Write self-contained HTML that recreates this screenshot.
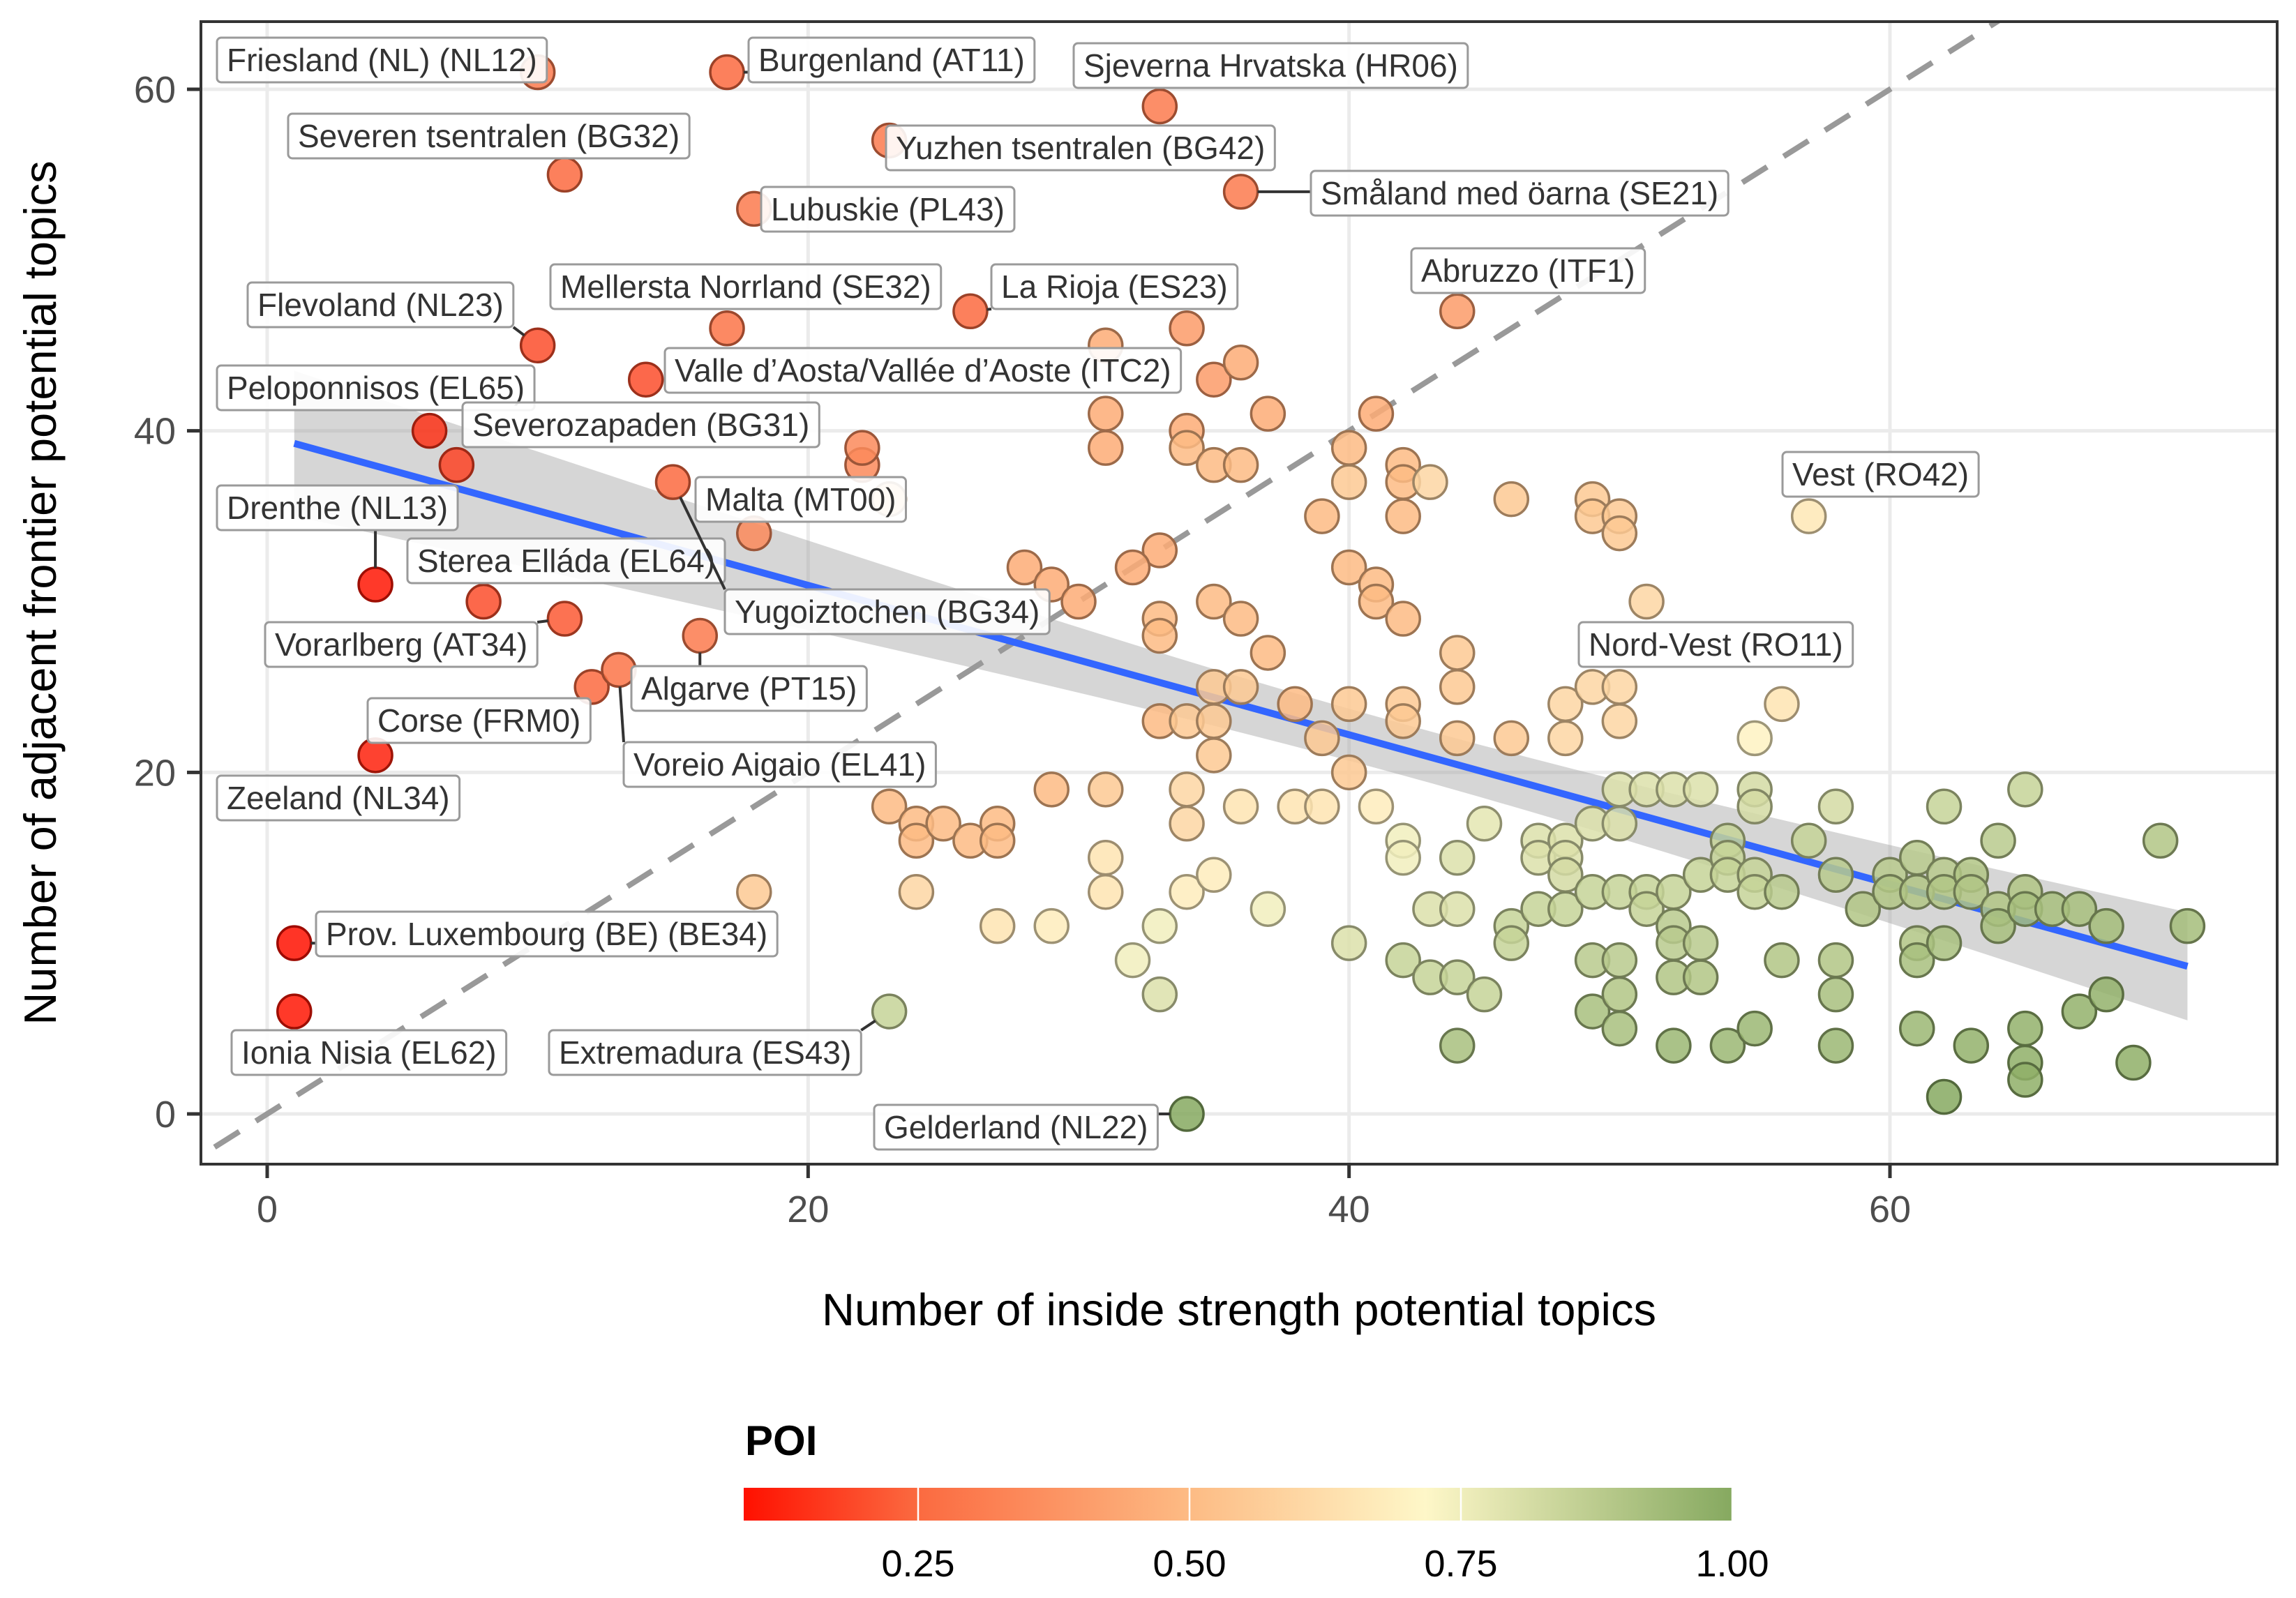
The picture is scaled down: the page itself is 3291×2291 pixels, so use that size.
<!DOCTYPE html>
<html><head><meta charset="utf-8">
<style>
html,body{margin:0;padding:0;background:#fff;}
svg{display:block;font-family:"Liberation Sans",Arial,sans-serif;}
</style></head>
<body>
<svg id="chart" width="3291" height="2291" viewBox="0 0 3291 2291" xmlns="http://www.w3.org/2000/svg">
<defs>
<clipPath id="panelClip"><rect x="288" y="31" width="2976" height="1638"/></clipPath>
<linearGradient id="poiGrad" x1="0" x2="1" y1="0" y2="0">
<stop offset="0" stop-color="#ff1000"/>
<stop offset="0.176" stop-color="#fb6a40"/>
<stop offset="0.451" stop-color="#fdbb84"/>
<stop offset="0.69" stop-color="#fef7c8"/>
<stop offset="1" stop-color="#86a960"/>
</linearGradient>
</defs>
<rect x="0" y="0" width="3291" height="2291" fill="#fff"/>
<g id="grid"></g>
<g id="marks" clip-path="url(#panelClip)"></g>
<g id="labels"></g>
<rect x="288" y="31" width="2976" height="1638" fill="none" stroke="#333" stroke-width="4"/>
<g id="axes"></g>
<text x="1776" y="1900" font-size="65" fill="#000" text-anchor="middle">Number of inside strength potential topics</text>
<text x="0" y="0" font-size="65" fill="#000" text-anchor="middle" transform="translate(80,850) rotate(-90)">Number of adjacent frontier potential topics</text>
<g id="legend">
<text x="1068" y="2086" font-size="60" font-weight="bold" fill="#000">POI</text>
<rect x="1066" y="2133" width="1416" height="47" fill="url(#poiGrad)"/>
</g>
</svg>
<script>
// Point data (x: inside strength topics, y: adjacent frontier topics, poi)
const xVals = [10,17,33,23,11,36,18,10,17,26,44,14,6,7,22,4,8,11,15,16,12,13,4,1,1,23,34,57,51,
18,23,22,
31,34,35,36,31,31,34,34,35,36,37,41,40,40,42,42,43,42,39,46,49,49,50,50,33,32,28,29,30,33,33,35,36,37,40,41,41,42,44,44,44,42,42,40,38,39,40,35,36,33,34,35,35,46,48,48,49,50,50,55,56,
23,24,24,25,26,27,27,29,31,34,34,36,38,39,41,18,24,27,29,31,31,32,33,33,34,35,37,40,42,42,42,43,44,44,43,44,45,44,45,46,46,47,47,47,48,48,48,48,
49,49,49,49,50,50,50,50,50,50,51,51,51,52,52,52,52,52,52,53,53,53,53,54,54,54,54,55,55,55,55,55,56,56,57,58,58,58,58,58,59,60,60,
61,61,61,61,61,62,62,62,62,62,63,63,63,64,64,64,65,65,65,65,65,65,66,67,67,68,68,69,70,71];
const yVals = [61,61,59,57,55,54,53,45,46,47,47,43,40,38,38,31,30,29,37,28,25,26,21,10,6,6,0,35,30,
34,36,39,
45,46,43,44,41,39,40,39,38,38,41,41,39,37,38,37,37,35,35,36,36,35,35,34,33,32,32,31,30,29,28,30,29,27,32,31,30,29,27,25,22,24,23,24,24,22,20,25,25,23,23,23,21,22,24,22,25,25,23,22,24,
18,17,16,17,16,17,16,19,19,19,17,18,18,18,18,13,13,11,11,15,13,9,11,7,13,14,12,10,16,15,9,12,15,12,8,8,7,4,17,11,10,16,15,12,16,15,14,12,
17,13,9,6,19,17,13,9,7,5,19,13,12,19,13,11,10,8,4,19,14,10,8,16,15,14,4,19,18,14,13,5,13,9,16,18,14,9,7,4,12,14,13,
15,13,10,9,5,18,14,13,10,1,14,13,4,16,12,11,19,13,12,5,3,2,12,12,6,11,7,3,16,11];
const poiVals = [.30,.25,.30,.30,.25,.30,.30,.20,.28,.25,.40,.20,.15,.18,.35,.10,.20,.22,.25,.30,.25,.28,.12,.09,.10,.85,1.0,.66,.60,
.35,.55,.35,
.45,.40,.40,.45,.45,.45,.45,.50,.50,.50,.45,.45,.50,.55,.50,.50,.60,.50,.50,.55,.55,.55,.55,.55,.45,.45,.45,.45,.45,.50,.50,.50,.50,.50,.50,.50,.50,.50,.55,.55,.55,.55,.55,.55,.50,.55,.55,.55,.55,.50,.55,.55,.55,.55,.60,.60,.60,.60,.60,.70,.65,
.50,.50,.50,.50,.50,.50,.50,.50,.55,.60,.60,.65,.65,.65,.68,.55,.60,.65,.68,.65,.65,.75,.75,.80,.68,.68,.75,.80,.75,.75,.85,.80,.80,.80,.85,.85,.85,.92,.78,.85,.85,.80,.80,.85,.80,.80,.82,.85,
.80,.85,.88,.92,.80,.80,.85,.88,.90,.92,.80,.85,.85,.80,.85,.88,.88,.90,.95,.80,.85,.88,.90,.85,.85,.85,.95,.82,.82,.85,.85,.95,.88,.90,.85,.82,.88,.90,.92,.95,.90,.88,.90,
.88,.90,.90,.92,.95,.85,.88,.90,.92,1.0,.90,.90,.97,.88,.90,.92,.85,.90,.92,.97,.98,.98,.92,.92,.97,.93,.97,.98,.90,.93];
// Labels (first N points in order)
const labelNames = ["Friesland (NL) (NL12)","Burgenland (AT11)","Sjeverna Hrvatska (HR06)","Yuzhen tsentralen (BG42)","Severen tsentralen (BG32)","Småland med öarna (SE21)","Lubuskie (PL43)","Flevoland (NL23)","Mellersta Norrland (SE32)","La Rioja (ES23)","Abruzzo (ITF1)","Valle d’Aosta/Vallée d’Aoste (ITC2)","Peloponnisos (EL65)","Severozapaden (BG31)","Malta (MT00)","Drenthe (NL13)","Sterea Elláda (EL64)","Vorarlberg (AT34)","Yugoiztochen (BG34)","Algarve (PT15)","Corse (FRM0)","Voreio Aigaio (EL41)","Zeeland (NL34)","Prov. Luxembourg (BE) (BE34)","Ionia Nisia (EL62)","Extremadura (ES43)","Gelderland (NL22)","Vest (RO42)","Nord-Vest (RO11)"];
const xTicks = [0,20,40,60];
const yTicks = [0,20,40,60];
const legendTicks = ["0.25","0.50","0.75","1.00"];
// layout: label box [left, centerY] in pixels
const labelBoxLayout = [[311,86],[1073,86],[1539,94],[1270,212],[413,195],[1879,277],[1091,300],[355,437],[789,411],[1421,411],[2023,388],[953,531],[311,556],[663,609],[997,716],[311,728],[584,804],[380,924],[1039,877],[905,987],[527,1033],[894,1096],[311,1144],[453,1339],[332,1509],[787,1509],[1253,1616],[2555,680],[2263,924]];

const NS="http://www.w3.org/2000/svg";
const X0=383, XPU=(2709-383)/60, Y0=1597, YPU=(1597-128)/60;
const sx=v=>X0+v*XPU, sy=v=>Y0-v*YPU;
const PL=288,PR=3264,PT=31,PB=1669;
function mk(tag,attrs,parent){const e=document.createElementNS(NS,tag);for(const k in attrs)e.setAttribute(k,attrs[k]);parent.appendChild(e);return e;}
const grid=document.getElementById('grid'),marks=document.getElementById('marks'),axes=document.getElementById('axes'),labels=document.getElementById('labels'),legend=document.getElementById('legend');

const stops=[[0.089,[255,16,0]],[0.25,[251,106,64]],[0.5,[253,187,132]],[0.72,[254,247,200]],[1.0,[134,169,96]]];
function poiColor(p,dark){let c=stops[stops.length-1][1];
 if(p<=stops[0][0])c=stops[0][1];else for(let i=0;i<stops.length-1;i++){const a=stops[i],b=stops[i+1];if(p>=a[0]&&p<=b[0]){const t=(p-a[0])/(b[0]-a[0]);c=a[1].map((v,j)=>v+(b[1][j]-v)*t);break;}}
 const f=dark?0.62:1;return 'rgb('+c.map(v=>Math.round(v*f)).join(',')+')';}

xTicks.forEach(t=>{const l=mk('line',{x1:sx(t),x2:sx(t),y1:PT,y2:PB,stroke:'#ebebeb','stroke-width':5},grid);

});
yTicks.forEach(t=>{const l=mk('line',{x1:PL,x2:PR,y1:sy(t),y2:sy(t),stroke:'#ebebeb','stroke-width':5},grid);

});

const idl=mk('line',{x1:sx(-5),y1:sy(-5),x2:sx(80),y2:sy(80),stroke:'#999','stroke-width':8,'stroke-dasharray':'42 28'},marks);



const n=xVals.length;const mx=xVals.reduce((a,b)=>a+b,0)/n,my=yVals.reduce((a,b)=>a+b,0)/n;
let sxx=0,sxy=0;for(let i=0;i<n;i++){sxx+=(xVals[i]-mx)**2;sxy+=(xVals[i]-mx)*(yVals[i]-my);}
const slope=sxy/sxx,icpt=my-slope*mx;let sse=0;for(let i=0;i<n;i++)sse+=(yVals[i]-icpt-slope*xVals[i])**2;
const s=Math.sqrt(sse/(n-2));const xmin=Math.min(...xVals),xmax=Math.max(...xVals);
let up=[],lo=[];for(let k=0;k<=40;k++){const x=xmin+(xmax-xmin)*k/40;const yh=icpt+slope*x;const se=1.97*s*Math.sqrt(1/n+(x-mx)**2/sxx);up.push(sx(x)+','+sy(yh+se));lo.unshift(sx(x)+','+sy(yh-se));}
const band=mk('polygon',{points:up.concat(lo).join(' '),fill:'#999','fill-opacity':0.4},marks);


const reg=mk('line',{x1:sx(xmin),y1:sy(icpt+slope*xmin),x2:sx(xmax),y2:sy(icpt+slope*xmax),stroke:'#3366ff','stroke-width':10},marks);



for(let i=0;i<n;i++){const c=mk('circle',{cx:sx(xVals[i]),cy:sy(yVals[i]),r:24,fill:poiColor(poiVals[i],false),'fill-opacity':0.85,stroke:poiColor(poiVals[i],true),'stroke-width':3.5},marks);

}

labelNames.forEach((name,i)=>{const px=sx(xVals[i]),py=sy(yVals[i]);const [bl,bc]=labelBoxLayout[i];
 const g=mk('g',{},labels);
 
 
 const line=mk('line',{stroke:'#333','stroke-width':4},g);
 const rect=mk('rect',{x:bl,y:bc-32,height:64,rx:6,fill:'#fff','fill-opacity':0.9,stroke:'#9a9a9a','stroke-width':3},g);
 const t=mk('text',{x:bl+14,y:bc+16,'font-size':46,fill:'#333'},g);t.textContent=name;
 const w=t.getComputedTextLength()+28;rect.setAttribute('width',w);
 const nx=Math.max(bl,Math.min(px,bl+w)),ny=Math.max(bc-32,Math.min(py,bc+32));
 const d=Math.hypot(nx-px,ny-py);
 if(d>30){line.setAttribute('x1',px+(nx-px)*24/d);line.setAttribute('y1',py+(ny-py)*24/d);line.setAttribute('x2',nx);line.setAttribute('y2',ny);}
 else line.remove();
});

xTicks.forEach(t=>{const l=mk('line',{x1:sx(t),x2:sx(t),y1:PB,y2:PB+20,stroke:'#333','stroke-width':5},axes);


const tx=mk('text',{x:sx(t),y:1752,'font-size':54,fill:'#4d4d4d','text-anchor':'middle'},axes);tx.textContent=t;

});
yTicks.forEach(t=>{const l=mk('line',{x1:PL-20,x2:PL,y1:sy(t),y2:sy(t),stroke:'#333','stroke-width':5},axes);


const tx=mk('text',{x:252,y:sy(t)+19,'font-size':54,fill:'#4d4d4d','text-anchor':'end'},axes);tx.textContent=t;

});

const LX=v=>1316+(v-0.25)*(389/0.25);
legendTicks.forEach(lab=>{const v=parseFloat(lab);
 const l=mk('line',{x1:LX(v),x2:LX(v),y1:2133,y2:2180,stroke:'#fff','stroke-width':2.5},legend);
 
 
 const tx=mk('text',{x:LX(v),y:2260,'font-size':54,fill:'#000','text-anchor':'middle'},legend);tx.textContent=lab;
 
 });
</script>
</body></html>
